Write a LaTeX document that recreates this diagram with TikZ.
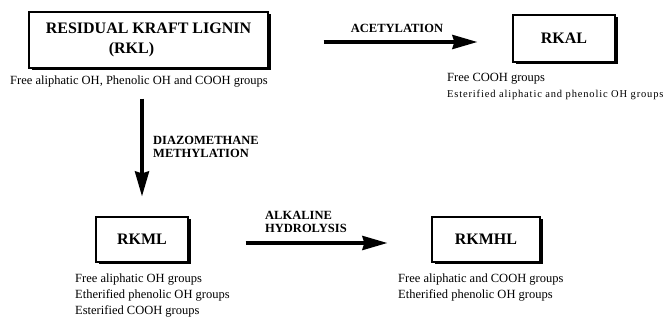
\documentclass[tikz,border=0pt]{standalone}
\usepackage{fontspec}
\setmainfont{Liberation Serif}
\newfontfamily\spacedfont[LetterSpace=8]{Liberation Serif}
\usetikzlibrary{arrows.meta,shadows}

\begin{document}
\begin{tikzpicture}[
  x=1pt,y=-1pt,
  box/.style={draw,line width=1.2pt,fill=white,align=center,inner sep=0pt,
    font=\fontsize{16}{20}\selectfont\bfseries,
    drop shadow={shadow xshift=2.5pt,shadow yshift=-2.5pt,fill=black,opacity=1}},
  note/.style={align=left,inner sep=0pt,font=\fontsize{12.5}{16}\selectfont},
  lbl/.style={align=left,inner sep=0pt,font=\fontsize{12.5}{13.5}\selectfont\bfseries},
  conv/.style={line width=3.5pt,-{Stealth[length=25pt,width=14pt,inset=2pt]}}
]
\useasboundingbox[fill=white] (0,0) rectangle (672,320);

% boxes
\node[box,minimum width=239pt,minimum height=56pt,align=left] (rkl) at (148.5,40)
  {RESIDUAL KRAFT LIGNIN\\\hspace*{63pt}(RKL)};
\node[box,minimum width=102pt,minimum height=47pt] (rkal) at (564,38.5) {RKAL};
\node[box,minimum width=92pt,minimum height=45pt] (rkml) at (142,239.5) {RKML};
\node[box,minimum width=108pt,minimum height=45pt] (rkmhl) at (486,239.5) {RKMHL};

% groups
\node[note,anchor=west] (rklnote) at (10,82) {Free aliphatic OH, Phenolic OH and COOH groups};
\node[note,anchor=west] (rkalnote) at (447,79) {Free COOH groups};
\node[note,anchor=west,font=\fontsize{10.5}{12}\spacedfont] (rkalnote2) at (447,95)
  {Esterified aliphatic and phenolic OH groups};
\node[note,anchor=west] (rkmlnote) at (75,296)
  {Free aliphatic OH groups\\Etherified phenolic OH groups\\Esterified COOH groups};
\node[note,anchor=west] (rkmhlnote) at (398,288)
  {Free aliphatic and COOH groups\\Etherified phenolic OH groups};

% reactions
\draw[conv,shorten <=55pt,shorten >=35pt,transform canvas={yshift=-2pt}]
  (rkl.east) -- (rkal.west |- rkl.east);
\node[lbl] (acet) at (397,28) {ACETYLATION};
\draw[conv,shorten <=30pt,shorten >=20pt] (rkl.south -| rkml.north) -- (rkml.north);
\node[lbl,anchor=west] (diazo) at (153,147) {DIAZOMETHANE\\METHYLATION};
\draw[conv,shorten <=57pt,shorten >=44pt,transform canvas={yshift=-3.5pt}]
  (rkml.east) -- (rkmhl.west);
\node[lbl,anchor=west] (alk) at (265,222) {ALKALINE\\HYDROLYSIS};
\end{tikzpicture}
\end{document}
